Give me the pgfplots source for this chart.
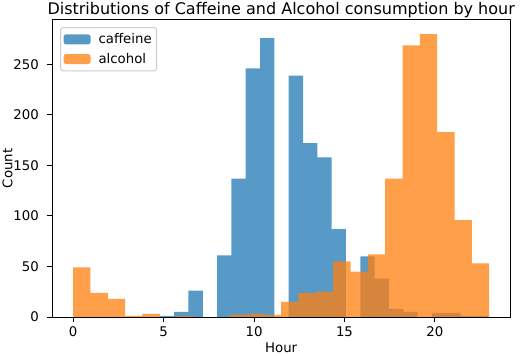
\documentclass[border=0pt]{standalone}
\usepackage{pgfplots}
\pgfplotsset{compat=1.18}
\usepackage{fontspec}
\setmainfont{DejaVu Sans}
\definecolor{c0}{HTML}{1F77B4}
\definecolor{c1}{HTML}{FF7F0E}
\definecolor{legedge}{HTML}{CCCCCC}
\newcommand{\tickfont}{\fontsize{13.3bp}{16bp}\selectfont}
\begin{document}
\begin{tikzpicture}
\begin{axis}[
  width=457.7bp, height=297bp, scale only axis,
  xmin=-1.15, xmax=24.15, ymin=0, ymax=294,
  xtick={0,5,10,15,20}, ytick={0,50,100,150,200,250},
  tick align=outside, major tick length=4.8bp,
  every tick/.style={black, line width=1bp},
  axis line style={line width=1bp},
  xtick pos=bottom, ytick pos=left,
  /pgf/number format/assume math mode=true,
  tick label style={font=\tickfont},
  xticklabel style={anchor=base, yshift=-15bp},
  yticklabel style={anchor=east, xshift=-5.2bp},
  title={Distributions of Caffeine and Alcohol consumption by hour},
  title style={font=\fontsize{16bp}{19bp}\selectfont, at={(axis description cs:0.5,1)}, anchor=base, yshift=-0.5bp},
  xlabel={Hour}, ylabel={Count},
  xlabel style={font=\tickfont, at={(axis description cs:0.5,0)}, anchor=base, yshift=-35bp},
  ylabel style={font=\tickfont, at={(axis description cs:-0.0874,0.5)}, anchor=base},
  legend style={at={(axis description cs:0.017,0.976)}, anchor=north west,
    draw=legedge, line width=1bp, rounded corners=2.5bp, fill=white,
    font=\tickfont, inner xsep=3bp, inner ysep=4bp, row sep=4bp},
  legend cell align=left,
  legend image code/.code={\fill[#1] (0bp,-5bp) rectangle (27bp,5bp); \path (33bp,0bp);},
]
\addplot[draw=none, fill=c0, fill opacity=0.75, const plot] coordinates {
(4.0000,0) (4.7917,1) (5.5833,5) (6.3750,26) (7.1667,0) (7.9583,61)
(8.7500,137) (9.5417,246) (10.3333,276) (11.1250,0) (11.9167,239) (12.7083,172)
(13.5000,158) (14.2917,87) (15.0833,0) (15.8750,60) (16.6667,38) (17.4583,8)
(18.2500,5) (19.0417,0) (19.8333,4) (20.6250,4) (21.4167,1) (22.2083,1)
(23.0000,1)
} \closedcycle;
\addlegendentry{caffeine}
\addplot[draw=none, fill=c1, fill opacity=0.75, const plot] coordinates {
(0.0000,49) (0.9583,24) (1.9167,18) (2.8750,1) (3.8333,3) (4.7917,0)
(5.7500,1) (6.7083,0) (7.6667,0) (8.6250,2) (9.5833,3) (10.5417,2)
(11.5000,15) (12.4583,24) (13.4167,25) (14.3750,55) (15.3333,45) (16.2917,62)
(17.2500,137) (18.2083,269) (19.1667,280) (20.1250,183) (21.0833,96) (22.0417,53)
(23.0000,53)
} \closedcycle;
\addlegendentry{alcohol}
\coordinate (BL) at (rel axis cs:0,0);
\coordinate (TR) at (rel axis cs:1,1);
\end{axis}
\pgfresetboundingbox
\path ([shift={(-52.3bp,-39bp)}]BL) rectangle ([shift={(12bp,20bp)}]TR);
\end{tikzpicture}
\end{document}
